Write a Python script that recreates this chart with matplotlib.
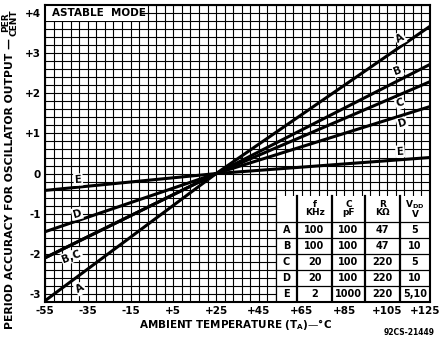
import numpy as np
import matplotlib
matplotlib.use("Agg")
import matplotlib.pyplot as plt
from matplotlib.patches import Rectangle
from matplotlib.transforms import ScaledTranslation

# ---- data ----
temps = [-55, 25, 125]
series = {
    "A": [-3.17, 0.0, 3.67],
    "B": [-2.10, 0.0, 2.72],
    "C": [-2.10, 0.0, 2.29],
    "D": [-1.45, 0.0, 1.67],
    "E": [-0.42, 0.0, 0.40],
}
right_labels = ["A", "B", "C", "D", "E"]
left_labels = ["E", "D", "B,C", "A"]

x_ticks = [-55, -35, -15, 5, 25, 45, 65, 85, 105, 125]
x_ticklabels = ["-55", "-35", "-15", "+5", "+25", "+45", "+65", "+85", "+105", "+125"]
y_ticks = [4, 3, 2, 1, 0, -1, -2, -3]
y_ticklabels = ["+4", "+3", "+2", "+1", "0", "-1", "-2", "-3"]

table_header = ["f\nKHz", "C\npF", "R\nKΩ", "V$_{\\mathbf{DD}}$\nV"]
table_rows = ["A", "B", "C", "D", "E"]
table_f = ["100", "100", "20", "20", "2"]
table_c = ["100", "100", "100", "100", "1000"]
table_r = ["47", "47", "220", "220", "220"]
table_v = ["5", "10", "5", "10", "5,10"]

plt.rcParams['font.family'] = ['DejaVu Sans']
plt.rcParams['font.weight'] = 'bold'

fig = plt.figure(figsize=(4.4, 3.42), dpi=100)
ax = fig.add_axes([0.1023, 0.117, 0.875, 0.8684])

xmin, xmax = -55, 125
ymin, ymax = -3.2, 4.2
ax.set_xlim(xmin, xmax)
ax.set_ylim(ymin, ymax)

# grid
for gx in np.arange(xmin, xmax + 0.1, 4):
    ax.axvline(gx, color="black", lw=0.8, zorder=1)
for gy in np.arange(ymin, ymax + 0.01, 0.2):
    ax.axhline(gy, color="black", lw=0.8, zorder=1)

# lines
for k, v in series.items():
    ax.plot(temps, v, color="black", lw=2.2, zorder=3, solid_capstyle="butt")

# line labels
def angle(name):
    v = series[name]
    dy = (v[-1] - v[0]) / (ymax - ymin) * 297
    dx = (temps[-1] - temps[0]) / (xmax - xmin) * 385
    return np.degrees(np.arctan2(dy, dx))

rpos = {"A": (111, 3.37), "B": (110, 2.57), "C": (111, 1.75), "D": (112, 1.25), "E": (111, 0.55)}
for n in right_labels:
    x, y = rpos[n]
    ax.text(x, y, n, ha="center", va="center", fontsize=7.5, fontweight="bold",
            rotation=angle(n) * 0.8, zorder=4,
            bbox=dict(facecolor="white", edgecolor="none", pad=0.8))
lpos = {"E": (-39.5, -0.15, "E"), "D": (-40, -1.0, "D"), "B,C": (-42.5, -2.07, "B"), "A": (-38.5, -2.87, "A")}
for n in left_labels:
    x, y, ref = lpos[n]
    ax.text(x, y, n, ha="center", va="center", fontsize=7.5, fontweight="bold",
            rotation=angle(ref) * 0.8, zorder=4,
            bbox=dict(facecolor="white", edgecolor="none", pad=0.8))

# ASTABLE MODE box
ax.add_patch(Rectangle((xmin, 3.8), 45, ymax - 3.8, facecolor="white", edgecolor="none", zorder=2))
ax.text(-51.5, 4.0, "ASTABLE  MODE", ha="left", va="center", fontsize=7.5, fontweight="bold", zorder=5)

# table
tx0 = 53
col_edges = [tx0, 62.8, 79.2, 94.6, 111, xmax]
row_edges = [-0.55, -1.2, -1.6, -2.0, -2.4, -2.8, ymin]
ax.add_patch(Rectangle((tx0, ymin), xmax - tx0, row_edges[0] - ymin, facecolor="white",
                       edgecolor="none", zorder=5))
for ce in col_edges[1:-1]:
    ax.plot([ce, ce], [ymin, row_edges[0]], color="black", lw=1.6, zorder=6)
for re in row_edges[1:-1]:
    ax.plot([tx0, xmax], [re, re], color="black", lw=0.9, zorder=6)
ax.plot([tx0, tx0], [ymin, row_edges[0]], color="black", lw=0.9, zorder=6)
for j, h in enumerate(table_header):
    cx = (col_edges[j + 1] + col_edges[j + 2]) / 2
    cy = (row_edges[0] + row_edges[1]) / 2
    ax.text(cx, cy, h, ha="center", va="center", fontsize=6.5, fontweight="bold",
            linespacing=0.95, zorder=7)
cols = [table_rows, table_f, table_c, table_r, table_v]
for i in range(len(table_rows)):
    cy = (row_edges[i + 1] + row_edges[i + 2]) / 2
    for j, col in enumerate(cols):
        cx = (col_edges[j] + col_edges[j + 1]) / 2
        ax.text(cx, cy, col[i], ha="center", va="center", fontsize=7, fontweight="bold", zorder=7)

# ticks
ax.set_xticks(x_ticks)
ax.set_xticklabels(x_ticklabels, fontsize=7.5, fontweight="bold")
ax.set_yticks(y_ticks)
ax.set_yticklabels(y_ticklabels, fontsize=7.5, fontweight="bold")
ax.tick_params(length=0, pad=3)
last = ax.get_xticklabels()[-1]
last.set_transform(last.get_transform() + ScaledTranslation(-5 / 100, 0, fig.dpi_scale_trans))
for s in ax.spines.values():
    s.set_linewidth(1.5)
    s.set_zorder(8)

fig.text(0.535, 0.05, "AMBIENT TEMPERATURE (T$_\\mathbf{A}$)—°C", ha="center", va="center",
         fontsize=7.5, fontweight="bold")
fig.text(0.93, 0.028, "92CS-21449", ha="center", va="center", fontsize=5.5)
fig.text(0.022, 0.462, "PERIOD ACCURACY FOR OSCILLATOR OUTPUT —", rotation=90, ha="center",
         va="center", fontsize=7.8, fontweight="bold")
fig.text(0.022, 0.935, "PER\nCENT", rotation=90, ha="center", va="center", fontsize=6.5,
         fontweight="bold", linespacing=0.9)

fig.savefig("out.png", dpi=100)
